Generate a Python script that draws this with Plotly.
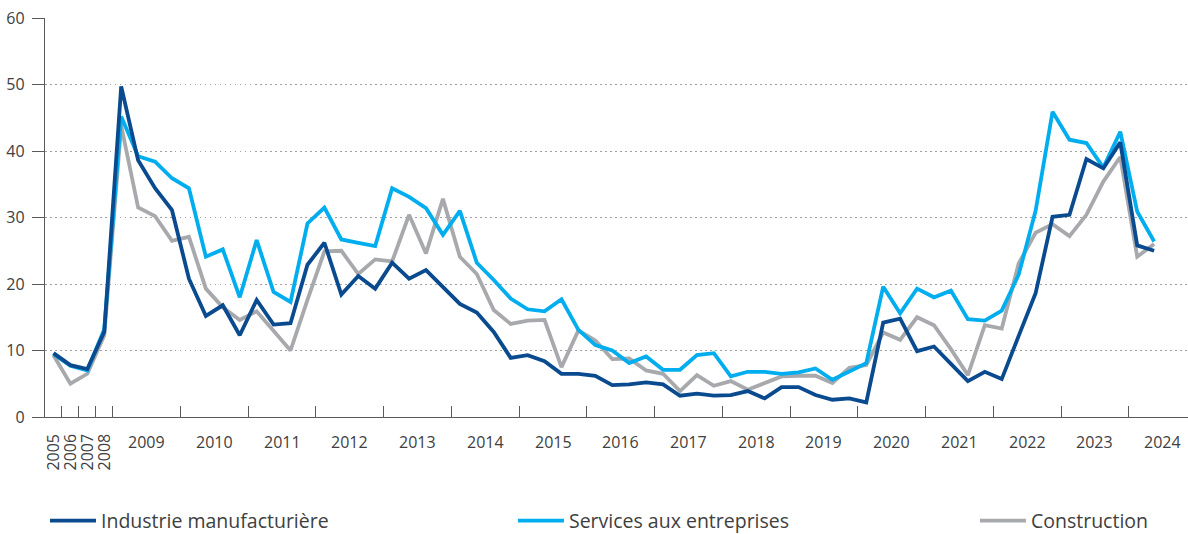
import plotly.graph_objects as go

annual_labels = ["2005", "2006", "2007", "2008"]
year_labels = [str(y) for y in range(2009, 2025)]

industrie = [9.6, 7.8, 7.2, 12.8, 49.7, 38.6, 34.4, 31.1, 20.8, 15.2, 16.8, 12.3,
             17.6, 13.9, 14.1, 22.9, 26.2, 18.4, 21.2, 19.3, 23.2, 20.8, 22.1, 19.5,
             17.0, 15.7, 12.8, 8.9, 9.3, 8.4, 6.5, 6.5, 6.2, 4.8, 4.9, 5.2,
             4.9, 3.2, 3.5, 3.2, 3.3, 3.9, 2.8, 4.5, 4.5, 3.3, 2.6, 2.8,
             2.2, 14.2, 14.8, 9.9, 10.6, 8.0, 5.4, 6.8, 5.7, 12.2, 18.6, 30.1,
             30.4, 38.8, 37.4, 41.3, 25.8, 25.0]
services = [9.5, 7.7, 7.0, 13.2, 45.2, 39.2, 38.4, 35.9, 34.4, 24.1, 25.2, 18.0,
            26.6, 18.8, 17.3, 29.1, 31.5, 26.7, 26.2, 25.7, 34.4, 33.1, 31.4, 27.4,
            31.0, 23.2, 20.6, 17.8, 16.2, 15.9, 17.7, 13.1, 10.8, 10.0, 8.1, 9.1,
            7.1, 7.1, 9.3, 9.6, 6.1, 6.8, 6.8, 6.5, 6.7, 7.3, 5.6, 6.8,
            8.1, 19.6, 15.6, 19.3, 18.0, 19.0, 14.7, 14.5, 16.0, 21.4, 31.0, 45.9,
            41.7, 41.2, 37.5, 42.9, 30.9, 26.4]
construction = [9.3, 5.0, 6.5, 12.3, 43.8, 31.5, 30.2, 26.5, 27.1, 19.3, 16.5, 14.6,
                15.9, 13.0, 10.0, 17.6, 24.9, 25.0, 21.5, 23.7, 23.4, 30.4, 24.6, 32.8,
                24.1, 21.5, 16.1, 14.0, 14.5, 14.6, 7.5, 13.0, 11.5, 8.7, 8.8, 7.0,
                6.5, 3.9, 6.3, 4.7, 5.4, 4.1, 5.1, 6.1, 6.2, 6.2, 5.1, 7.4,
                7.8, 12.7, 11.6, 15.0, 13.8, 10.2, 6.3, 13.8, 13.3, 23.1, 27.7, 29.0,
                27.2, 30.4, 35.4, 39.1, 24.1, 26.0]

series_names = ["Industrie manufacturière", "Services aux entreprises", "Construction"]
colors = ["#0a4a8f", "#00aeef", "#a7a9ac"]

n_annual = len(annual_labels)
x = list(range(len(industrie)))

# category boundaries (ticks) and label centres
tick_pos = [i + 0.5 for i in range(n_annual)] + [n_annual - 0.5 + 4 * k for k in range(1, len(year_labels))]
annual_centres = list(range(n_annual))
year_centres = [n_annual + 4 * k + 1.5 for k in range(len(year_labels))]

FONT = "Open Sans"
TXT = "#404040"
AX = "#5a5a5a"

fig = go.Figure()
for name, ys, col, lg in [
    (series_names[2], construction, colors[2], "legend3"),
    (series_names[1], services, colors[1], "legend2"),
    (series_names[0], industrie, colors[0], "legend"),
]:
    fig.add_trace(go.Scatter(x=x, y=ys, mode="lines", name=name, showlegend=True,
                             line=dict(color=col, width=3.8), legend=lg))

ann = []
for c, t in zip(annual_centres, annual_labels):
    ann.append(dict(x=c, y=-0.088, xref="x", yref="paper", text=t, showarrow=False,
                    textangle=-90, xanchor="center", yanchor="middle",
                    font=dict(family=FONT, size=16, color=TXT)))
for c, t in zip(year_centres, year_labels):
    ann.append(dict(x=c, y=-0.062, xref="x", yref="paper", text=t, showarrow=False,
                    xanchor="center", yanchor="middle",
                    font=dict(family=FONT, size=16, color=TXT)))

leg_common = dict(orientation="h", yanchor="middle", y=-0.2607, xanchor="left",
                  font=dict(family=FONT, size=19.5, color=TXT), bgcolor="rgba(0,0,0,0)",
                  itemwidth=46)

fig.update_layout(
    width=1188, height=534,
    margin=dict(l=45, r=0, t=18, b=117, autoexpand=False),
    showlegend=True,
    paper_bgcolor="white", plot_bgcolor="white",
    font=dict(family=FONT, color=TXT),
    annotations=ann,
    legend=dict(x=0.0, **leg_common),
    legend2=dict(x=0.4094, **leg_common),
    legend3=dict(x=0.8136, **leg_common),
    xaxis=dict(range=[-0.5, 67.0], showgrid=False, zeroline=False, automargin=False,
               showline=True, linecolor=AX, linewidth=1.3,
               tickmode="array", tickvals=tick_pos, ticks="inside", ticklen=11,
               tickcolor=AX, tickwidth=1.2, showticklabels=False),
    yaxis=dict(range=[0, 60], dtick=10, showgrid=True, gridcolor="#a0a0a0",
               griddash="1.5px,3.5px", gridwidth=1.2, zeroline=False, automargin=False,
               showline=True, linecolor=AX, linewidth=1.3,
               ticks="outside", ticklen=12, tickcolor=AX, tickwidth=1.2,
               ticklabelstandoff=4, ticklabeloverflow="allow",
               tickfont=dict(family=FONT, size=16, color=TXT)),
)

fig.write_html("out.html", config={"displayModeBar": False},
               post_script="document.body.style.margin='0';")
